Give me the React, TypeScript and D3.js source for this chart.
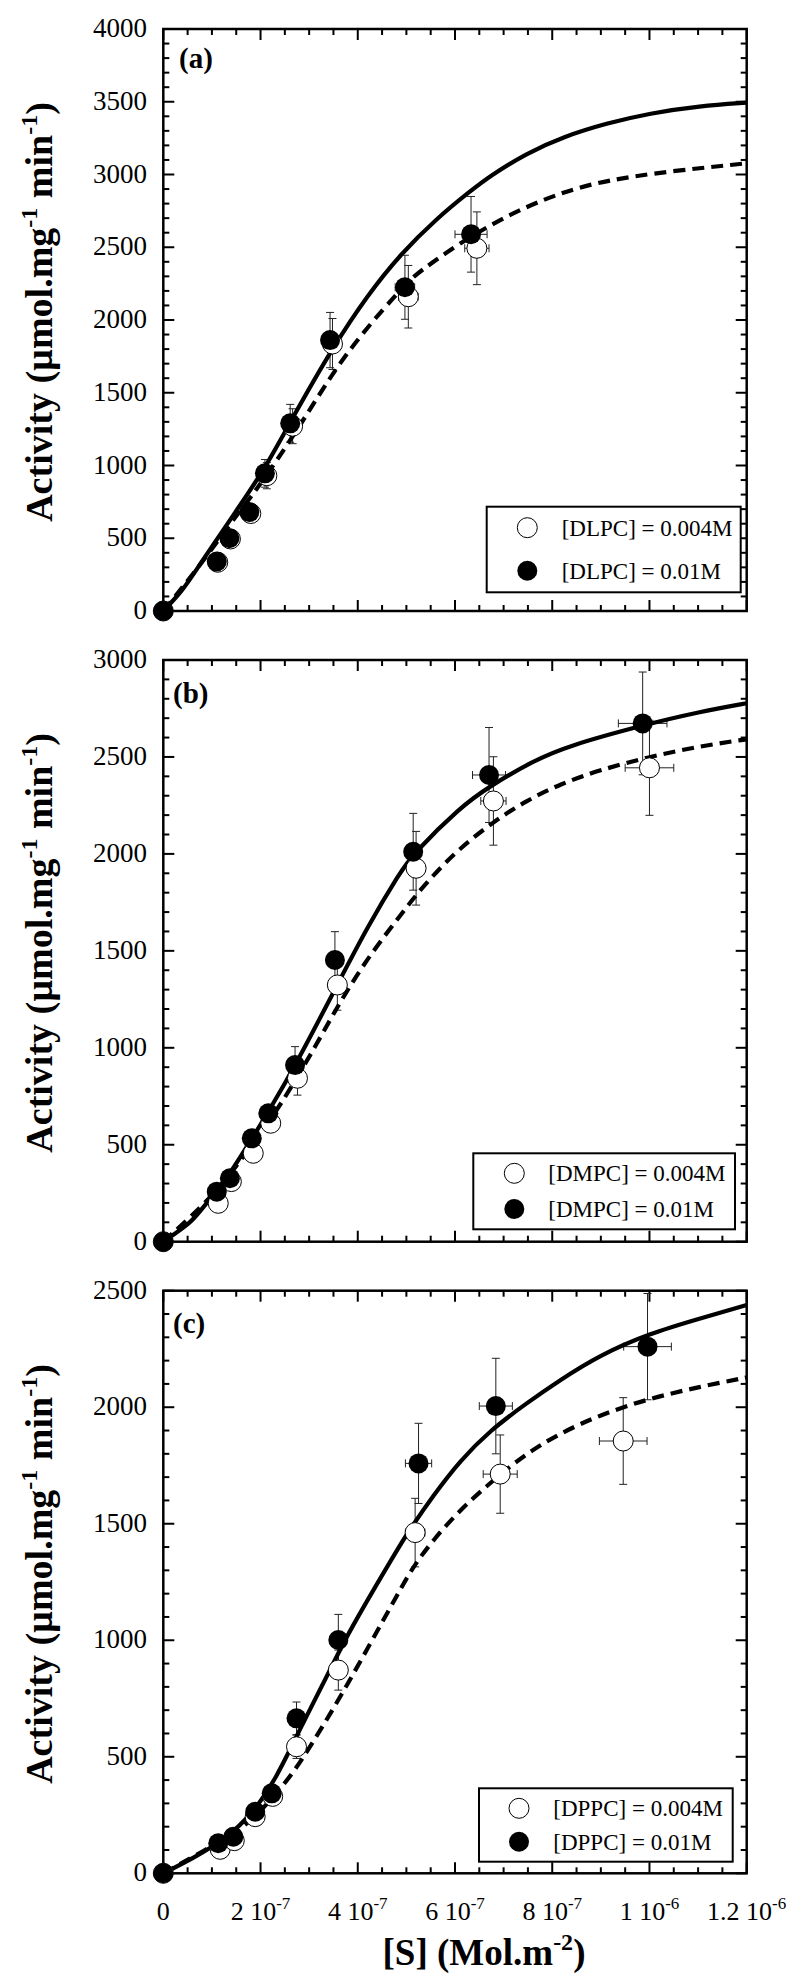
import React from 'react';
import * as d3 from 'd3';

const W = 800;
const H = 1986;
const FONT = '"Liberation Serif", "Times New Roman", Times, serif';
const LEFT = 163.3;
const RIGHT = 746.7;

// x tick labels: [mantissa, exponent]
const xMajorTicks = [0, 2e-7, 4e-7, 6e-7, 8e-7, 1e-6, 1.2e-6];
const xTickLabels = [['0', ''], ['2 10', '-7'], ['4 10', '-7'], ['6 10', '-7'], ['8 10', '-7'], ['1 10', '-6'], ['1.2 10', '-6']];

// points: [S, activity, xErr, yErr]
const dlpcLow = [
  [0, 0, 0, 0], [1.12e-7, 335, 0, 0], [1.38e-7, 495, 0, 0], [1.80e-7, 670, 0.05e-7, 40],
  [2.13e-7, 930, 0.08e-7, 90], [2.66e-7, 1270, 0.1e-7, 120], [3.48e-7, 1835, 0.12e-7, 175],
  [5.04e-7, 2160, 0.2e-7, 215], [6.45e-7, 2493, 0.25e-7, 250],
];
const dlpcHigh = [
  [0, 0, 0, 0], [1.10e-7, 340, 0, 0], [1.36e-7, 500, 0, 0], [1.77e-7, 680, 0, 0],
  [2.09e-7, 946, 0.1e-7, 95], [2.61e-7, 1290, 0.1e-7, 130], [3.43e-7, 1862, 0.12e-7, 190],
  [4.97e-7, 2225, 0.2e-7, 220], [6.33e-7, 2589, 0.33e-7, 260],
];
const dlpcFitHigh = [
  [0, 0], [0.4e-7, 140], [0.75e-7, 320], [1.1e-7, 490], [1.44e-7, 660], [2.06e-7, 960],
  [2.67e-7, 1335], [3.5e-7, 1820], [4.2e-7, 2170], [4.87e-7, 2450], [5.63e-7, 2700],
  [6.31e-7, 2885], [6.72e-7, 2990], [7.47e-7, 3146], [8.23e-7, 3260], [9.12e-7, 3352],
  [10e-7, 3421], [11.04e-7, 3471], [12e-7, 3494],
];
const dlpcFitLow = [
  [0, 0], [0.75e-7, 310], [1.44e-7, 630], [1.92e-7, 832], [2.81e-7, 1267], [3.7e-7, 1760],
  [4.87e-7, 2206], [5.14e-7, 2298], [5.55e-7, 2400], [6.1e-7, 2527], [6.79e-7, 2665],
  [7.47e-7, 2779], [8.16e-7, 2870], [8.85e-7, 2940], [10e-7, 3008], [12e-7, 3077],
];

const dmpcLow = [
  [0, 0, 0, 0], [1.13e-7, 198, 0, 0], [1.40e-7, 310, 0, 0], [1.85e-7, 456, 0.05e-7, 30],
  [2.21e-7, 611, 0.05e-7, 40], [2.76e-7, 843, 0.07e-7, 87], [3.58e-7, 1324, 0.1e-7, 130],
  [5.20e-7, 1926, 0.15e-7, 190], [6.79e-7, 2273, 0.26e-7, 228], [10e-7, 2444, 0.5e-7, 245],
];
const dmpcHigh = [
  [0, 0, 0, 0], [1.10e-7, 258, 0, 0], [1.37e-7, 327, 0, 0], [1.82e-7, 533, 0, 0],
  [2.16e-7, 662, 0.05e-7, 40], [2.71e-7, 911, 0.07e-7, 95], [3.53e-7, 1453, 0.1e-7, 146],
  [5.14e-7, 2011, 0.15e-7, 198], [6.70e-7, 2407, 0.34e-7, 245], [9.86e-7, 2673, 0.5e-7, 265],
];
const dmpcFitHigh = [
  [0, 0], [0.58e-7, 100], [0.76e-7, 160], [1.1e-7, 262], [1.37e-7, 350], [1.82e-7, 530],
  [2.16e-7, 670], [2.71e-7, 905], [3.57e-7, 1320], [4.19e-7, 1620], [4.87e-7, 1905],
  [5.14e-7, 2000], [6.1e-7, 2240], [6.72e-7, 2350], [7.61e-7, 2480], [8.3e-7, 2555],
  [9.88e-7, 2665], [11.04e-7, 2733], [12e-7, 2777],
];
const dmpcFitLow = [
  [0, 0], [1.1e-7, 250], [1.82e-7, 500], [2.4e-7, 696], [3.16e-7, 1020], [3.64e-7, 1240],
  [4.25e-7, 1480], [4.87e-7, 1680], [5.14e-7, 1770], [5.55e-7, 1890], [6.1e-7, 2030],
  [6.79e-7, 2166], [7.47e-7, 2275], [8.16e-7, 2360], [8.98e-7, 2433], [10e-7, 2501],
  [11.04e-7, 2556], [12e-7, 2591],
];

const dppcLow = [
  [0, 0, 0, 0], [1.17e-7, 103, 0, 0], [1.46e-7, 140, 0, 0], [1.89e-7, 243, 0, 0],
  [2.25e-7, 330, 0, 0], [2.74e-7, 543, 0, 50], [3.60e-7, 872, 0.05e-7, 86],
  [5.18e-7, 1462, 0.2e-7, 147], [6.93e-7, 1713, 0.35e-7, 168], [9.46e-7, 1855, 0.49e-7, 186],
];
const dppcHigh = [
  [0, 0, 0, 0], [1.13e-7, 129, 0, 0], [1.44e-7, 157, 0, 0], [1.89e-7, 264, 0, 0],
  [2.23e-7, 343, 0, 0], [2.74e-7, 665, 0, 70], [3.60e-7, 1001, 0.05e-7, 110],
  [5.25e-7, 1759, 0.27e-7, 172], [6.84e-7, 2005, 0.34e-7, 205], [9.96e-7, 2260, 0.49e-7, 228],
];
const dppcFitHigh = [
  [0, 0], [0.62e-7, 65], [1.3e-7, 150], [1.85e-7, 260], [2.33e-7, 410], [2.81e-7, 620],
  [3.5e-7, 900], [3.77e-7, 1020], [4.87e-7, 1410], [5.07e-7, 1475], [5.55e-7, 1620],
  [6.1e-7, 1770], [6.72e-7, 1900], [7.47e-7, 2017], [8.16e-7, 2117], [8.98e-7, 2224],
  [10e-7, 2317], [11.04e-7, 2381], [12e-7, 2439],
];
const dppcFitLow = [
  [0, 0], [1.3e-7, 150], [1.85e-7, 230], [2.4e-7, 360], [2.81e-7, 470], [3.57e-7, 730],
  [4.19e-7, 960], [4.87e-7, 1216], [5.14e-7, 1316], [5.55e-7, 1430], [6.1e-7, 1559],
  [6.79e-7, 1688], [7.47e-7, 1802], [8.16e-7, 1888], [8.98e-7, 1967], [10e-7, 2038],
  [11.04e-7, 2088], [12e-7, 2128],
];

const panels = [
  {
    tag: '(a)', lipid: 'DLPC', top: 29, bottom: 611, yMax: 4000,
    low: dlpcLow, high: dlpcHigh, fitLow: dlpcFitLow, fitHigh: dlpcFitHigh,
    tagPos: [179, 68],
    legend: { x: 486.7, y: 506.7, w: 254, h: 85.6, cx: 527.3, rows: [527.7, 570.7], tx: 561.7 },
  },
  {
    tag: '(b)', lipid: 'DMPC', top: 660, bottom: 1241.7, yMax: 3000,
    low: dmpcLow, high: dmpcHigh, fitLow: dmpcFitLow, fitHigh: dmpcFitHigh,
    tagPos: [173, 703],
    legend: { x: 473.3, y: 1153.3, w: 261.7, h: 76, cx: 514.3, rows: [1173.3, 1209], tx: 548.3 },
  },
  {
    tag: '(c)', lipid: 'DPPC', top: 1290.7, bottom: 1873.3, yMax: 2500,
    low: dppcLow, high: dppcHigh, fitLow: dppcFitLow, fitHigh: dppcFitHigh,
    tagPos: [173, 1333],
    legend: { x: 479, y: 1788.3, w: 253.7, h: 73.4, cx: 519, rows: [1808.3, 1841.7], tx: 553.3 },
  },
];

function ErrorBars({ data, x, y }) {
  return (
    <g stroke="#222" strokeWidth="1" fill="none">
      {data.map((d, i) => {
        const cx = x(d[0]);
        const cy = y(d[1]);
        const parts = [];
        if (d[3] > 0) {
          const y0 = y(d[1] - d[3]);
          const y1 = y(d[1] + d[3]);
          parts.push(<line key="v" x1={cx} x2={cx} y1={y0} y2={y1} />);
          parts.push(<line key="vt" x1={cx - 4} x2={cx + 4} y1={y1} y2={y1} />);
          parts.push(<line key="vb" x1={cx - 4} x2={cx + 4} y1={y0} y2={y0} />);
        }
        if (d[2] > 0) {
          const x0 = x(d[0] - d[2]);
          const x1 = x(d[0] + d[2]);
          parts.push(<line key="h" x1={x0} x2={x1} y1={cy} y2={cy} />);
          parts.push(<line key="hl" x1={x0} x2={x0} y1={cy - 4} y2={cy + 4} />);
          parts.push(<line key="hr" x1={x1} x2={x1} y1={cy - 4} y2={cy + 4} />);
        }
        return <g key={i}>{parts}</g>;
      })}
    </g>
  );
}

function Panel({ p, last }) {
  const x = d3.scaleLinear([0, 1.2e-6], [LEFT, RIGHT]);
  const y = d3.scaleLinear([0, p.yMax], [p.bottom, p.top]);
  const line = d3.line().x(d => x(d[0])).y(d => y(d[1])).curve(d3.curveBasis);

  const xMinor = d3.range(0, 25).map(i => i * 5e-8);
  const yMinor = d3.range(0, p.yMax / 100 + 1).map(i => i * 100);
  const yMajor = d3.range(0, p.yMax + 1, 500);
  const lg = p.legend;
  const midY = (p.top + p.bottom) / 2 - 8;

  return (
    <g>
      {/* ticks, pointing inward on all four sides */}
      <g stroke="#000" strokeWidth="2">
        {xMinor.map((v, i) => {
          const len = i % 4 === 0 ? 11 : 6;
          return (
            <g key={'x' + i}>
              <line x1={x(v)} x2={x(v)} y1={p.bottom} y2={p.bottom - len} />
              <line x1={x(v)} x2={x(v)} y1={p.top} y2={p.top + len} />
            </g>
          );
        })}
        {yMinor.map((v, i) => {
          const len = i % 5 === 0 ? 11 : 6;
          return (
            <g key={'y' + i}>
              <line x1={LEFT} x2={LEFT + len} y1={y(v)} y2={y(v)} />
              <line x1={RIGHT} x2={RIGHT - len} y1={y(v)} y2={y(v)} />
            </g>
          );
        })}
      </g>
      <rect x={LEFT} y={p.top} width={RIGHT - LEFT} height={p.bottom - p.top}
        fill="none" stroke="#000" strokeWidth="2.5" />

      {/* y tick labels */}
      <g fontFamily={FONT} fontSize="27" textAnchor="end">
        {yMajor.map(v => (
          <text key={v} x={147} y={y(v) + 8}>{v}</text>
        ))}
      </g>

      {/* x tick labels on the bottom panel only */}
      {last && (
        <g fontFamily={FONT} fontSize="26" textAnchor="middle">
          {xMajorTicks.map((v, i) => (
            <text key={i} x={x(v)} y={p.bottom + 47}>
              {xTickLabels[i][0]}
              {xTickLabels[i][1] && (
                <tspan dy="-11" fontSize="17">{xTickLabels[i][1]}</tspan>
              )}
            </text>
          ))}
        </g>
      )}

      {/* y axis title */}
      <text transform={`translate(52,${midY}) rotate(-90)`} textAnchor="middle"
        fontFamily={FONT} fontWeight="bold" fontSize="38">
        Activity (µmol.mg<tspan dy="-15" fontSize="24">-1</tspan>
        <tspan dy="15"> min</tspan><tspan dy="-15" fontSize="24">-1</tspan>
        <tspan dy="15">)</tspan>
      </text>

      <text x={p.tagPos[0]} y={p.tagPos[1]} fontFamily={FONT} fontWeight="bold" fontSize="29">{p.tag}</text>

      <ErrorBars data={p.low} x={x} y={y} />
      <ErrorBars data={p.high} x={x} y={y} />

      <path d={line(p.fitLow)} fill="none" stroke="#000" strokeWidth="4.2" strokeDasharray="12 7" />
      <path d={line(p.fitHigh)} fill="none" stroke="#000" strokeWidth="4.2" />

      <g fill="#fff" stroke="#000" strokeWidth="1">
        {p.low.map((d, i) => <circle key={i} cx={x(d[0])} cy={y(d[1])} r={10} />)}
      </g>
      <g fill="#000">
        {p.high.map((d, i) => <circle key={i} cx={x(d[0])} cy={y(d[1])} r={10} />)}
      </g>

      {/* legend */}
      <rect x={lg.x} y={lg.y} width={lg.w} height={lg.h} fill="#fff" stroke="#000" strokeWidth="2" />
      <circle cx={lg.cx} cy={lg.rows[0]} r={10} fill="#fff" stroke="#000" strokeWidth="1" />
      <circle cx={lg.cx} cy={lg.rows[1]} r={10} fill="#000" />
      <g fontFamily={FONT} fontSize="23">
        <text x={lg.tx} y={lg.rows[0] + 8}>[{p.lipid}] = 0.004M</text>
        <text x={lg.tx} y={lg.rows[1] + 8}>[{p.lipid}] = 0.01M</text>
      </g>
    </g>
  );
}

export default function App() {
  return (
    <svg width={W} height={H} style={{ position: 'absolute', left: 0, top: 0, background: '#fff' }}>
      <rect width={W} height={H} fill="#fff" />
      {panels.map((p, i) => (
        <Panel key={p.tag} p={p} last={i === panels.length - 1} />
      ))}
      <text x={484} y={1965} textAnchor="middle" fontFamily={FONT} fontWeight="bold" fontSize="37">
        [S] (Mol.m<tspan dy="-15" fontSize="24">-2</tspan><tspan dy="15">)</tspan>
      </text>
    </svg>
  );
}
